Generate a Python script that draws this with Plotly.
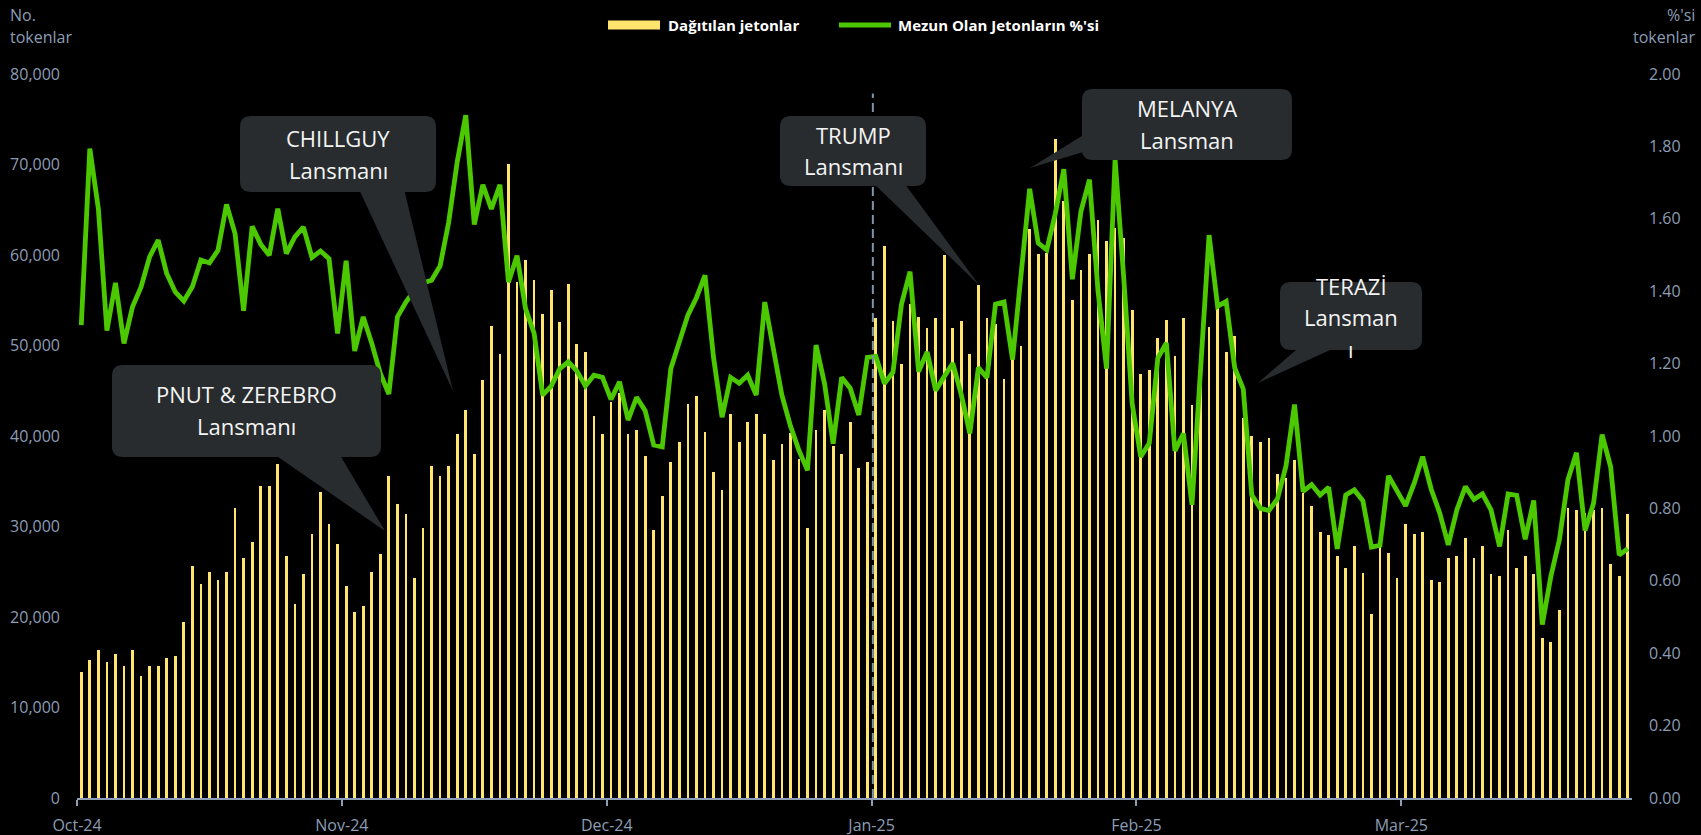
import plotly.graph_objects as go

# ---------------- data ----------------
months = ["Oct-24", "Nov-24", "Dec-24", "Jan-25", "Feb-25", "Mar-25"]
tick_every = 31  # label interval (categories)

tokens = [
    13960, 15280, 16390, 15060, 15940, 14620, 16390, 13520, 14620, 14620,
    15500, 15720, 19480, 25660, 23670, 24990, 24110, 24990, 32060, 26540,
    28300, 34480, 34480, 36910, 26760, 21460, 24770, 29190, 33820, 30290,
    28080, 23450, 20580, 21240, 24990, 26980, 35590, 32500, 31390, 24330,
    29850, 36690, 35590, 36690, 40220, 42900, 38020, 46190, 52110, 49030,
    70020, 57000, 59450, 57200, 53430, 56120, 52600, 56810, 50150, 49270,
    42180, 40270, 43790, 44770, 40270, 40660, 37770, 29600, 33420, 37140,
    39340, 43500, 44380, 40420, 36060, 34010, 42420, 39340, 41590, 42420,
    40270, 37330, 39100, 40370, 37500, 29850, 40660, 42910, 38900, 38020,
    41540, 36450, 37140, 53050, 60960, 52750, 47950, 54550, 53150, 51900,
    53050, 59960, 51900, 52750, 49050, 56660, 53050, 52350, 46350, 48550,
    50000, 62920, 60060, 60250, 72820, 66000, 55000, 58310, 60070, 63820,
    61600, 63000, 61850, 53900, 46900, 47300, 50800, 52820, 48890, 53000,
    43480, 46000, 52100, 55190, 49300, 51000, 42000, 39990, 39350, 39770,
    35820, 35390, 37390, 33690, 32280, 29430, 29010, 26790, 25430, 27860,
    24830, 20360, 29180, 27050, 24310, 30290, 29190, 29410, 24110, 23890,
    26540, 26760, 28740, 26540, 27860, 24770, 24550, 29630, 25430, 26760,
    24770, 17710, 17270, 20800, 32000, 31830, 31500, 31830, 32060, 25880,
    24550, 31390,
]

graduated_pct = [
    1.306, 1.794, 1.628, 1.291, 1.423, 1.256, 1.357, 1.412, 1.495, 1.541,
    1.449, 1.398, 1.373, 1.412, 1.486, 1.478, 1.513, 1.640, 1.559, 1.346,
    1.579, 1.530, 1.499, 1.628, 1.504, 1.550, 1.577, 1.493, 1.511, 1.490,
    1.283, 1.484, 1.235, 1.329, 1.256, 1.173, 1.116, 1.329, 1.370, 1.403,
    1.423, 1.430, 1.470, 1.590, 1.757, 1.886, 1.584, 1.694, 1.627, 1.694,
    1.425, 1.498, 1.352, 1.284, 1.113, 1.138, 1.186, 1.205, 1.180, 1.138,
    1.168, 1.162, 1.101, 1.150, 1.044, 1.107, 1.070, 0.975, 0.970, 1.186,
    1.260, 1.334, 1.382, 1.444, 1.217, 1.052, 1.162, 1.146, 1.168, 1.113,
    1.370, 1.242, 1.113, 1.028, 0.960, 0.905, 1.251, 1.144, 0.979, 1.162,
    1.132, 1.058, 1.217, 1.220, 1.145, 1.176, 1.364, 1.454, 1.178, 1.232,
    1.126, 1.164, 1.201, 1.114, 1.007, 1.189, 1.161, 1.364, 1.370, 1.211,
    1.452, 1.683, 1.533, 1.514, 1.614, 1.737, 1.433, 1.620, 1.708, 1.401,
    1.186, 1.764, 1.441, 1.089, 0.943, 0.980, 1.215, 1.257, 0.959, 1.007,
    0.810, 1.183, 1.555, 1.358, 1.372, 1.188, 1.130, 0.837, 0.800, 0.794,
    0.826, 0.917, 1.087, 0.847, 0.866, 0.837, 0.858, 0.688, 0.837, 0.851,
    0.821, 0.693, 0.698, 0.890, 0.850, 0.807, 0.869, 0.943, 0.853, 0.787,
    0.699, 0.796, 0.860, 0.825, 0.840, 0.796, 0.695, 0.840, 0.836, 0.715,
    0.822, 0.479, 0.612, 0.713, 0.879, 0.954, 0.739, 0.814, 1.004, 0.915,
    0.671, 0.689,
]

left_ticks = [0, 10000, 20000, 30000, 40000, 50000, 60000, 70000, 80000]
right_ticks = [0.0, 0.2, 0.4, 0.6, 0.8, 1.0, 1.2, 1.4, 1.6, 1.8, 2.0]

# ---------------- layout helpers ----------------
W, H = 1701, 835
L, R, T, B = 77, 69, 74, 37
PW, PH = W - L - R, H - T - B

AXIS_COL = "#8C9DB5"
BOX_COL = "#282C2F"
BAR_COL = "#FFE46E"
LINE_COL = "#4CC800"
FONT = "Open Sans"


def px(x):
    return (x - L) / PW


def py(y):
    return (H - B - y) / PH


def rrect_path(x0, y0, x1, y1, r):
    pts = [
        ("M", [(x0 + r, y0)]),
        ("L", [(x1 - r, y0)]),
        ("Q", [(x1, y0), (x1, y0 + r)]),
        ("L", [(x1, y1 - r)]),
        ("Q", [(x1, y1), (x1 - r, y1)]),
        ("L", [(x0 + r, y1)]),
        ("Q", [(x0, y1), (x0, y1 - r)]),
        ("L", [(x0, y0 + r)]),
        ("Q", [(x0, y0), (x0 + r, y0)]),
    ]
    s = ""
    for cmd, ps in pts:
        s += cmd + " " + " ".join(f"{px(a):.5f},{py(b):.5f}" for a, b in ps) + " "
    return s + "Z"


def poly_path(points):
    s = "M " + " L ".join(f"{px(a):.5f},{py(b):.5f}" for a, b in points)
    return s + " Z"


callouts = [
    dict(box=(240, 116, 436, 192), tail=[(357, 185), (403, 185), (453, 391)],
         lines=[("CHILLGUY", 338, 138), ("Lansmanı", 338, 170)]),
    dict(box=(112, 365, 381, 457), tail=[(268, 450), (337, 450), (385, 531)],
         lines=[("PNUT &amp; ZEREBRO", 246, 394), ("Lansmanı", 246, 426)]),
    dict(box=(780, 116, 926, 186), tail=[(870, 180), (902, 180), (979, 285)],
         lines=[("TRUMP", 853, 135), ("Lansmanı", 853, 166)]),
    dict(box=(1082, 89, 1292, 160), tail=[(1090, 131), (1090, 150), (1030, 168)],
         lines=[("MELANYA", 1187, 108), ("Lansman", 1187, 140)]),
    dict(box=(1280, 282, 1422, 350), tail=[(1303, 344), (1343, 344), (1258, 383)],
         lines=[("TERAZİ", 1351, 286), ("Lansman", 1351, 317), ("ı", 1351, 349)]),
]

# ---------------- figure ----------------
idx = list(range(len(tokens)))
tickvals = [i * tick_every - 0.5 for i in range(len(months))]

fig = go.Figure()
fig.add_trace(go.Bar(
    x=idx, y=tokens, name="Dağıtılan jetonlar",
    marker=dict(color=BAR_COL, line=dict(width=0)), width=0.32,
))
fig.add_trace(go.Scatter(
    x=idx, y=graduated_pct, name="Mezun Olan Jetonların %'si", yaxis="y2",
    mode="lines", line=dict(color=LINE_COL, width=4.8),
))

shapes = []
# dashed vertical marker (Jan-25)
shapes.append(dict(type="line", xref="x", yref="y", x0=92.65, x1=92.65, y0=0, y1=77850,
                   line=dict(color="#7F93A6", width=2, dash="9px,5px"), layer="above"))
for c in callouts:
    x0, y0, x1, y1 = c["box"]
    shapes.append(dict(type="path", xref="paper", yref="paper", path=rrect_path(x0, y0, x1, y1, 11),
                       fillcolor=BOX_COL, line=dict(width=0), layer="above"))
    shapes.append(dict(type="path", xref="paper", yref="paper", path=poly_path(c["tail"]),
                       fillcolor=BOX_COL, line=dict(width=0), layer="above"))

# manual legend
shapes.append(dict(type="rect", xref="paper", yref="paper", x0=px(608), x1=px(660), y0=py(29.5), y1=py(20.5),
                   fillcolor=BAR_COL, line=dict(width=0), layer="above"))
shapes.append(dict(type="line", xref="paper", yref="paper", x0=px(839), x1=px(891), y0=py(25), y1=py(25),
                   line=dict(color=LINE_COL, width=5), layer="above"))

annotations = []
for c in callouts:
    for txt, cx, cy in c["lines"]:
        annotations.append(dict(text=txt, xref="paper", yref="paper", x=px(cx), y=py(cy),
                                xanchor="center", yanchor="middle", showarrow=False,
                                font=dict(family=FONT, size=22, color="#F4F4F4")))
annotations += [
    dict(text="<b>Dağıtılan jetonlar</b>", x=px(666), y=py(25), xanchor="left", yanchor="middle"),
    dict(text="<b>Mezun Olan Jetonların %'si</b>", x=px(896), y=py(25), xanchor="left", yanchor="middle"),
]
for a in annotations[-2:]:
    a.update(xref="paper", yref="paper", showarrow=False, font=dict(family=FONT, size=15, color="#FFFFFF"))

axis_titles = [
    ("No.", 8, 15, "left"), ("tokenlar", 8, 37, "left"),
    ("%'si", 1697, 15, "right"), ("tokenlar", 1697, 37, "right"),
]
for txt, x, y, anc in axis_titles:
    annotations.append(dict(text=txt, xref="paper", yref="paper", x=px(x), y=py(y), xanchor=anc,
                            yanchor="middle", showarrow=False,
                            font=dict(family=FONT, size=16, color=AXIS_COL)))

fig.update_layout(
    width=W, height=H,
    margin=dict(l=L, r=R, t=T, b=B, pad=0, autoexpand=False),
    paper_bgcolor="#000000", plot_bgcolor="#000000",
    showlegend=False, bargap=0,
    font=dict(family=FONT, color=AXIS_COL, size=16),
    xaxis=dict(range=[-0.5, len(tokens) - 0.5], tickmode="array", tickvals=tickvals, ticktext=months,
               showgrid=False, zeroline=False, showline=True, linecolor=AXIS_COL, linewidth=2,
               ticks="outside", ticklen=6, tickwidth=2, tickcolor=AXIS_COL, automargin=False,
               tickfont=dict(family=FONT, size=16, color=AXIS_COL), ticklabelstandoff=6),
    yaxis=dict(range=[0, 80000], tickmode="array", tickvals=left_ticks, tickformat=",",
               showgrid=False, zeroline=False, showline=False, ticks="", automargin=False,
               tickfont=dict(family=FONT, size=16, color=AXIS_COL), ticklabelstandoff=16),
    yaxis2=dict(range=[0, 2], overlaying="y", side="right", tickmode="array", tickvals=right_ticks,
                tickformat=".2f", ticksuffix="%", showgrid=False, zeroline=False, showline=False, ticks="",
                automargin=False,
                tickfont=dict(family=FONT, size=16, color=AXIS_COL), ticklabelstandoff=16),
    shapes=shapes, annotations=annotations,
)

fig.write_html(
    "out.html",
    config={"displayModeBar": False},
    post_script="document.body.style.margin='0';document.body.style.background='#000';",
)
